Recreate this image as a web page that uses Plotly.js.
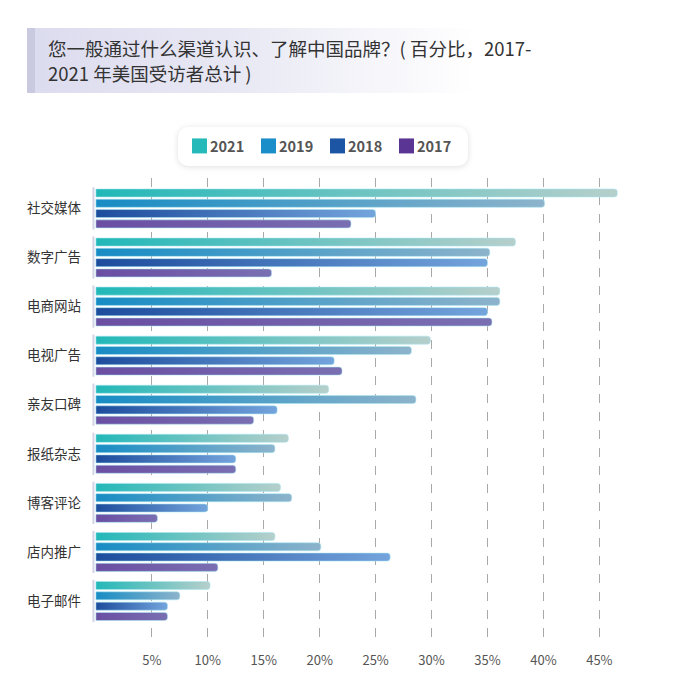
<!DOCTYPE html>
<html>
<head>
<meta charset="utf-8">
<script src="https://cdn.plot.ly/plotly-3.0.1.min.js"></script>
<style>
  html, body { margin: 0; padding: 0; background: #ffffff; }
  #wrap { position: relative; width: 684px; height: 690px; overflow: hidden; }
  #accent { position: absolute; left: 27px; top: 28px; width: 8px; height: 65px; background: #c9c9df; }
  #titlebox { position: absolute; left: 35px; top: 28px; width: 440px; height: 65px;
    background: linear-gradient(to right, #dcdcef 0%, #e8e8f4 45%, rgba(255,255,255,0) 100%); }
  #legbox { position: absolute; left: 178px; top: 127px; width: 290px; height: 39px; border-radius: 10px;
    background: #fff; box-shadow: 0 1px 6px rgba(0,0,0,0.13); }
  #chart { position: absolute; left: 0; top: 0; width: 684px; height: 690px; }
</style>
</head>
<body>
<div id="wrap">
  <div id="accent"></div>
  <div id="titlebox"></div>
  <div id="legbox"></div>
  <div id="chart"></div>
</div>
<script>
const categories = ['社交媒体','数字广告','电商网站','电视广告','亲友口碑','报纸杂志','博客评论','店内推广','电子邮件'];
const years = ['2021','2019','2018','2017'];
const v2021 = [46.6, 37.5, 36.1, 29.9, 20.8, 17.2, 16.5, 16.0, 10.2];
const v2019 = [40.1, 35.2, 36.1, 28.2, 28.6, 16.0, 17.5, 20.1, 7.5];
const v2018 = [25.0, 35.0, 35.0, 21.3, 16.2, 12.5, 10.0, 26.3, 6.4];
const v2017 = [22.8, 15.7, 35.4, 22.0, 14.1, 12.5, 5.5, 10.9, 6.4];
const xTicks = [5, 10, 15, 20, 25, 30, 35, 40, 45];
const titleLines = ['您一般通过什么渠道认识、了解中国品牌？( 百分比，2017-', '2021 年美国受访者总计 )'];

const series = [v2021, v2019, v2018, v2017];
const legendColors = ['#25b9b9', '#1a8ec9', '#1d55a5', '#5b3593'];
const gradStops = [
  ['#22b8b8', '#b6cfcb'],
  ['#178cc4', '#8db3cb'],
  ['#1c4c9c', '#74a4dc'],
  ['#6a4ea2', '#7a6fb2']
];
const FONT = "'Noto Sans CJK SC', 'Noto Sans', sans-serif";

const W = 684, H = 690;
const M = { l: 92, r: 60, t: 178, b: 47 };
const pw = W - M.l - M.r, ph = H - M.t - M.b;
const px2paperX = x => (x - M.l) / pw;
const px2paperY = y => (H - M.b - y) / ph;

const traces = series.map((vals, i) => ({
  type: 'bar',
  orientation: 'h',
  name: years[i],
  y: categories,
  x: vals,
  marker: { color: legendColors[i], line: { width: 0 } },
  hoverinfo: 'skip'
}));

const shapes = categories.map((c, i) => ({
  type: 'line', xref: 'x', yref: 'y',
  x0: -0.22, x1: -0.22, y0: i - 0.43, y1: i + 0.43,
  line: { color: '#d3d3e6', width: 2 }, layer: 'below'
}));

const annotations = titleLines.map((t, i) => ({
  text: t, showarrow: false,
  xref: 'paper', yref: 'paper',
  x: px2paperX(46), xanchor: 'left',
  y: px2paperY(48 + i * 25), yanchor: 'middle',
  font: { family: FONT, size: 18.5, color: '#333' }
}));

const layout = {
  width: W, height: H,
  paper_bgcolor: 'rgba(0,0,0,0)', plot_bgcolor: 'rgba(0,0,0,0)',
  margin: M,
  font: { family: FONT, color: '#333' },
  barmode: 'group',
  bargap: 0.16,
  bargroupgap: 0.22,
  barcornerradius: 3,
  showlegend: true,
  legend: {
    orientation: 'h',
    xref: 'container', x: 170 / W, xanchor: 'left',
    yref: 'container', y: 1 - 146 / H, yanchor: 'middle',
    bgcolor: 'rgba(0,0,0,0)',
    font: { family: FONT, size: 14.5, color: '#555', weight: 'bold' },
    entrywidth: 24, entrywidthmode: 'pixels',
    traceorder: 'normal'
  },
  xaxis: {
    range: [-0.35, 47.2],
    tickvals: xTicks,
    ticktext: xTicks.map(v => v + '%'),
    showgrid: true, gridcolor: '#a9a9a9', griddash: 'dash', gridwidth: 1,
    zeroline: false, showline: false, ticks: '',
    ticklabelstandoff: 8,
    tickfont: { family: FONT, size: 13, color: '#555' },
    fixedrange: true
  },
  yaxis: {
    type: 'category',
    categoryorder: 'array', categoryarray: categories,
    range: [8.856, -0.62],
    showgrid: false, zeroline: false, showline: false, ticks: '',
    ticklabelstandoff: 10,
    tickfont: { family: FONT, size: 13.5, color: '#333' },
    fixedrange: true
  },
  shapes: shapes,
  annotations: annotations
};

function applyGradients(gd) {
  const svg = gd.querySelector('svg.main-svg');
  if (!svg) return;
  const NS = 'http://www.w3.org/2000/svg';
  let defs = svg.querySelector('defs');
  if (!defs) { defs = document.createElementNS(NS, 'defs'); svg.insertBefore(defs, svg.firstChild); }
  gradStops.forEach((st, i) => {
    const id = 'barGrad' + i;
    if (svg.querySelector('#' + id)) return;
    const lg = document.createElementNS(NS, 'linearGradient');
    lg.setAttribute('id', id);
    lg.setAttribute('x1', '0'); lg.setAttribute('y1', '0');
    lg.setAttribute('x2', '1'); lg.setAttribute('y2', '0');
    st.forEach((c, k) => {
      const s = document.createElementNS(NS, 'stop');
      s.setAttribute('offset', k === 0 ? '0' : '1');
      s.setAttribute('stop-color', c);
      lg.appendChild(s);
    });
    defs.appendChild(lg);
  });
  gd.querySelectorAll('.barlayer .trace.bars').forEach((tr, i) => {
    tr.querySelectorAll('path').forEach(p => {
      p.style.fill = 'url(#barGrad' + i + ')';
      p.style.stroke = 'rgba(170,232,242,0.55)';
      p.style.strokeWidth = '1px';
    });
  });
  // square legend swatches, placed close to their labels
  gd.querySelectorAll('.legend .traces .legendpoints path').forEach(p => {
    p.setAttribute('d', 'M2,-7.5H17V7.5H2Z');
  });
  // let the last legend label show in full
  gd.querySelectorAll('.legend [clip-path]').forEach(el => el.removeAttribute('clip-path'));
}

const gd = document.getElementById('chart');
Plotly.newPlot(gd, traces, layout, { displayModeBar: false, staticPlot: true }).then(() => {
  applyGradients(gd);
  gd.on('plotly_afterplot', () => applyGradients(gd));
});
</script>
</body>
</html>
